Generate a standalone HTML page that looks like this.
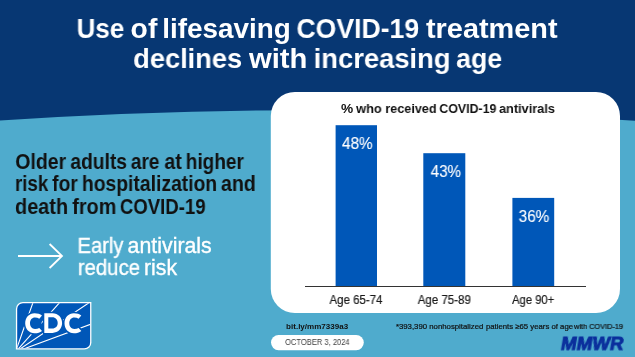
<!DOCTYPE html>
<html><head><meta charset="utf-8">
<style>
html,body{margin:0;padding:0;}
body{width:635px;height:357px;overflow:hidden;position:relative;background:#4fabcd;font-family:"Liberation Sans",sans-serif;}
.t{position:absolute;left:0;top:0;white-space:nowrap;line-height:1;transform-origin:0 0;will-change:transform;}
.b{font-weight:bold;}
</style></head><body>
<svg style="position:absolute;left:0;top:0" width="635" height="357" viewBox="0 0 635 357">
<rect x="0" y="0" width="635" height="357" fill="#4fabcd"/>
<path d="M0,0 H635 V120.78 Q317.5,99.78 0,120.57 Z" fill="#073773"/>
<rect x="270.8" y="92" width="349.2" height="221" rx="24" ry="24" fill="#fff"/>
<path d="M18,256 H62 M49.6,244 L62,256 L49.6,268" stroke="#fff" stroke-width="1.8" fill="none"/>
<rect x="335.6" y="125.2" width="41.4" height="160.8" fill="#0057b8"/><rect x="423.3" y="153.2" width="42" height="132.8" fill="#0057b8"/><rect x="512.4" y="197.9" width="41.8" height="88.1" fill="#0057b8"/>
<rect x="305" y="286" width="281" height="1" fill="#333333"/>
<rect x="271" y="335" width="92.8" height="15.2" rx="7.6" fill="#fff"/>
<defs><clipPath id="lc"><path d="M23.2,303.2 H90.1 V342.3 A5.7,5.7 0 0 1 84.4,348.3 H17.2 V308.9 A5.7,5.7 0 0 1 23.2,303.2 Z"/></clipPath></defs>
<path d="M22.9,301.9 H91.4 V342.6 A7,7 0 0 1 84.4,349.6 H15.9 V308.9 A7,7 0 0 1 22.9,301.9 Z" fill="#fff"/>
<path d="M23.2,303.2 H90.1 V342.3 A5.7,5.7 0 0 1 84.4,348.3 H17.2 V308.9 A5.7,5.7 0 0 1 23.2,303.2 Z" fill="#0057b8"/>
<g clip-path="url(#lc)"><path d="M15.5,352 L95.00,127.01 M15.5,352 L95.00,262.96 M15.5,352 L95.00,298.74 M15.5,352 L95.00,322.58" stroke="#fff" stroke-width="1.1" fill="none"/></g>
<g fill="#0057b8"><path d="M39.30,318.7 C38.10,318 36.60,317.6 35.00,317.6 C32.00,317.6 30.00,320 30.00,323.3 C30.00,326.6 32.00,329 35.00,329 C36.60,329 38.10,328.6 39.30,327.9 L41.30,327.2 L42.00,315.6 Z"/><path d="M78.60,318.7 C77.40,318 75.90,317.6 74.30,317.6 C71.30,317.6 69.30,320 69.30,323.3 C69.30,326.6 71.30,329 74.30,329 C75.90,329 77.40,328.6 78.60,327.9 L80.60,327.2 L81.30,315.6 Z"/><path d="M48.3,317.3 H52.3 C55.6,317.3 57.7,319.8 57.7,323 C57.7,326.2 55.6,328.5 52.3,328.5 H48.3 Z"/></g>
<g stroke="#0057b8" stroke-width="3.0" stroke-linejoin="round" fill="none"><path d="M42.00,315.6 C40.20,314 37.50,313.3 34.60,313.3 C29.20,313.3 25.20,317.6 25.20,323.3 C25.20,329 29.20,333.3 34.60,333.3 C37.50,333.3 40.20,332.5 42.00,330.9 L39.30,327.9 C38.10,328.6 36.60,329 35.00,329 C32.00,329 30.00,326.6 30.00,323.3 C30.00,320 32.00,317.6 35.00,317.6 C36.60,317.6 38.10,318 39.30,318.7 Z"/><path d="M44.3,313.3 H52.5 C58.2,313.3 62.1,317.6 62.1,323.1 C62.1,328.6 58.2,332.9 52.5,332.9 H44.3 Z M48.3,317.3 H52.3 C55.6,317.3 57.7,319.8 57.7,323 C57.7,326.2 55.6,328.5 52.3,328.5 H48.3 Z"/><path d="M81.30,315.6 C79.50,314 76.80,313.3 73.90,313.3 C68.50,313.3 64.50,317.6 64.50,323.3 C64.50,329 68.50,333.3 73.90,333.3 C76.80,333.3 79.50,332.5 81.30,330.9 L78.60,327.9 C77.40,328.6 75.90,329 74.30,329 C71.30,329 69.30,326.6 69.30,323.3 C69.30,320 71.30,317.6 74.30,317.6 C75.90,317.6 77.40,318 78.60,318.7 Z"/></g>
<g fill="#fff" fill-rule="evenodd"><path d="M42.00,315.6 C40.20,314 37.50,313.3 34.60,313.3 C29.20,313.3 25.20,317.6 25.20,323.3 C25.20,329 29.20,333.3 34.60,333.3 C37.50,333.3 40.20,332.5 42.00,330.9 L39.30,327.9 C38.10,328.6 36.60,329 35.00,329 C32.00,329 30.00,326.6 30.00,323.3 C30.00,320 32.00,317.6 35.00,317.6 C36.60,317.6 38.10,318 39.30,318.7 Z"/><path d="M44.3,313.3 H52.5 C58.2,313.3 62.1,317.6 62.1,323.1 C62.1,328.6 58.2,332.9 52.5,332.9 H44.3 Z M48.3,317.3 H52.3 C55.6,317.3 57.7,319.8 57.7,323 C57.7,326.2 55.6,328.5 52.3,328.5 H48.3 Z"/><path d="M81.30,315.6 C79.50,314 76.80,313.3 73.90,313.3 C68.50,313.3 64.50,317.6 64.50,323.3 C64.50,329 68.50,333.3 73.90,333.3 C76.80,333.3 79.50,332.5 81.30,330.9 L78.60,327.9 C77.40,328.6 75.90,329 74.30,329 C71.30,329 69.30,326.6 69.30,323.3 C69.30,320 71.30,317.6 74.30,317.6 C75.90,317.6 77.40,318 78.60,318.7 Z"/></g>
</svg>
<div class="t" id="title1_0" style="font-size:27.8px;transform:translate(76.60px,15.00px) scaleX(0.9348) ;font-weight:bold;color:#fff;">Use</div>
<div class="t" id="title1_1" style="font-size:27.8px;transform:translate(130.61px,15.00px) scaleX(1.0169) ;font-weight:bold;color:#fff;">of</div>
<div class="t" id="title1_2" style="font-size:27.8px;transform:translate(162.23px,15.00px) scaleX(1.0030) ;font-weight:bold;color:#fff;">lifesaving</div>
<div class="t" id="title1_3" style="font-size:27.8px;transform:translate(296.44px,15.00px) scaleX(0.9571) ;font-weight:bold;color:#fff;">COVID-19</div>
<div class="t" id="title1_4" style="font-size:27.8px;transform:translate(425.99px,15.00px) scaleX(1.0390) ;font-weight:bold;color:#fff;">treatment</div>
<div class="t" id="title2_0" style="font-size:27.8px;transform:translate(133.15px,45.00px) scaleX(0.9803) ;font-weight:bold;color:#fff;">declines</div>
<div class="t" id="title2_1" style="font-size:27.8px;transform:translate(248.98px,45.00px) scaleX(1.0524) ;font-weight:bold;color:#fff;">with</div>
<div class="t" id="title2_2" style="font-size:27.8px;transform:translate(313.65px,45.00px) scaleX(0.9848) ;font-weight:bold;color:#fff;">increasing</div>
<div class="t" id="title2_3" style="font-size:27.8px;transform:translate(456.15px,45.00px) scaleX(0.9577) ;font-weight:bold;color:#fff;">age</div>
<div class="t" id="l1_0" style="font-size:21.5px;transform:translate(15.27px,152.00px) scaleX(0.9069) ;font-weight:bold;color:#111;">Older</div>
<div class="t" id="l1_1" style="font-size:21.5px;transform:translate(70.37px,152.00px) scaleX(0.8943) ;font-weight:bold;color:#111;">adults</div>
<div class="t" id="l1_2" style="font-size:21.5px;transform:translate(130.81px,152.00px) scaleX(0.8873) ;font-weight:bold;color:#111;">are</div>
<div class="t" id="l1_3" style="font-size:21.5px;transform:translate(164.41px,152.00px) scaleX(0.9055) ;font-weight:bold;color:#111;">at</div>
<div class="t" id="l1_4" style="font-size:21.5px;transform:translate(185.70px,152.00px) scaleX(0.8873) ;font-weight:bold;color:#111;">higher</div>
<div class="t" id="l2_0" style="font-size:21.5px;transform:translate(14.96px,174.00px) scaleX(0.8721) ;font-weight:bold;color:#111;">risk</div>
<div class="t" id="l2_1" style="font-size:21.5px;transform:translate(52.11px,174.00px) scaleX(0.8974) ;font-weight:bold;color:#111;">for</div>
<div class="t" id="l2_2" style="font-size:21.5px;transform:translate(81.89px,174.00px) scaleX(0.8988) ;font-weight:bold;color:#111;">hospitalization</div>
<div class="t" id="l2_3" style="font-size:21.5px;transform:translate(220.90px,174.00px) scaleX(0.9146) ;font-weight:bold;color:#111;">and</div>
<div class="t" id="l3_0" style="font-size:21.5px;transform:translate(15.01px,197.00px) scaleX(0.9252) ;font-weight:bold;color:#111;">death</div>
<div class="t" id="l3_1" style="font-size:21.5px;transform:translate(72.25px,197.00px) scaleX(0.9212) ;font-weight:bold;color:#111;">from</div>
<div class="t" id="l3_2" style="font-size:21.5px;transform:translate(119.89px,197.00px) scaleX(0.8642) ;font-weight:bold;color:#111;">COVID-19</div>
<div class="t" id="e1_0" style="font-size:21.2px;transform:translate(77.52px,235.00px) scaleX(0.9487) ;color:#fff;-webkit-text-stroke:0.35px #fff;">Early</div>
<div class="t" id="e1_1" style="font-size:21.2px;transform:translate(127.61px,235.00px) scaleX(1.0062) ;color:#fff;-webkit-text-stroke:0.35px #fff;">antivirals</div>
<div class="t" id="e2_0" style="font-size:21.2px;transform:translate(77.85px,257.00px) scaleX(0.9593) ;color:#fff;-webkit-text-stroke:0.35px #fff;">reduce</div>
<div class="t" id="e2_1" style="font-size:21.2px;transform:translate(144.02px,257.00px) scaleX(1.0049) ;color:#fff;-webkit-text-stroke:0.35px #fff;">risk</div>
<div class="t" id="ct_0" style="font-size:13.7px;transform:translate(340.94px,102.00px) scaleX(1.0006) ;font-weight:bold;color:#111;">%</div>
<div class="t" id="ct_1" style="font-size:13.7px;transform:translate(356.13px,102.00px) scaleX(0.9334) ;font-weight:bold;color:#111;">who</div>
<div class="t" id="ct_2" style="font-size:13.7px;transform:translate(385.33px,102.00px) scaleX(0.9224) ;font-weight:bold;color:#111;">received</div>
<div class="t" id="ct_3" style="font-size:13.7px;transform:translate(439.28px,102.00px) scaleX(0.9049) ;font-weight:bold;color:#111;">COVID-19</div>
<div class="t" id="ct_4" style="font-size:13.7px;transform:translate(499.03px,102.00px) scaleX(0.9293) ;font-weight:bold;color:#111;">antivirals</div>
<div class="t" id="v1" style="font-size:16.5px;transform:translate(342.03px,135.00px) scaleX(0.9260) ;color:#fff;-webkit-text-stroke:0.12px #fff;">48%</div>
<div class="t" id="v2" style="font-size:16.5px;transform:translate(430.68px,163.00px) scaleX(0.9210) ;color:#fff;-webkit-text-stroke:0.12px #fff;">43%</div>
<div class="t" id="v3" style="font-size:16.5px;transform:translate(518.66px,208.00px) scaleX(0.9283) ;color:#fff;-webkit-text-stroke:0.12px #fff;">36%</div>
<div class="t" id="a1" style="font-size:12.0px;transform:translate(329.50px,294.00px) scaleX(0.9560) ;color:#1a1a1a;-webkit-text-stroke:0.2px #1a1a1a;">Age 65-74</div>
<div class="t" id="a2" style="font-size:12.0px;transform:translate(417.71px,294.00px) scaleX(0.9592) ;color:#1a1a1a;-webkit-text-stroke:0.2px #1a1a1a;">Age 75-89</div>
<div class="t" id="a3" style="font-size:12.0px;transform:translate(512.04px,294.00px) scaleX(0.9373) ;color:#1a1a1a;-webkit-text-stroke:0.2px #1a1a1a;">Age 90+</div>
<div class="t" id="url" style="font-size:7.8px;transform:translate(286.11px,323.00px) scaleX(1.0293) ;font-weight:bold;color:#111;">bit.ly/mm7339a3</div>
<div class="t" id="date" style="font-size:8.4px;transform:translate(285.05px,338.00px) scaleX(0.9027) ;color:#3d3d3d;">OCTOBER 3, 2024</div>
<div class="t" id="fn_0" style="font-size:7.5px;transform:translate(395.88px,323.00px) scaleX(1.0384) ;color:#111;-webkit-text-stroke:0.2px #111;">*393,390 nonhospitalized</div>
<div class="t" id="fn_1" style="font-size:7.5px;transform:translate(485.88px,323.00px) scaleX(1.0352) ;color:#111;-webkit-text-stroke:0.2px #111;">patients ≥65 years of age</div>
<div class="t" id="fn_2" style="font-size:7.5px;transform:translate(573.95px,323.00px) scaleX(0.9826) ;color:#111;-webkit-text-stroke:0.2px #111;">with COVID-19</div>
<div class="t" id="mmwr" style="font-size:17.5px;transform:translate(562.48px,336.00px) scaleX(1.0732) skewX(-9deg);font-weight:bold;color:#0a2f9c;-webkit-text-stroke:0.9px #0a2f9c;">MMWR</div>

</body></html>
